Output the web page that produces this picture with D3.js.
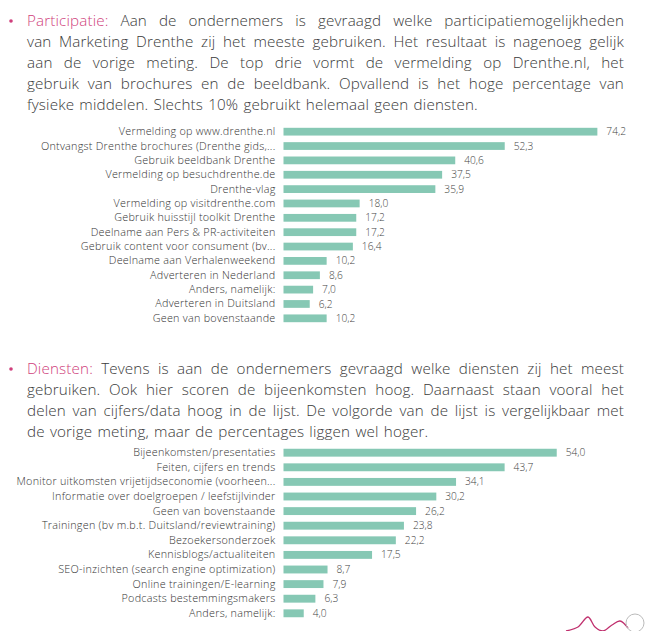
<!DOCTYPE html>
<html>
<head>
<meta charset="utf-8">
<script src="https://cdn.jsdelivr.net/npm/d3@7"></script>
<style>
  html, body { margin: 0; padding: 0; background: #ffffff; }
  svg { display: block; }
</style>
</head>
<body>
<svg id="chart" width="645" height="631"></svg>
<script>
// ---------- DATA ----------
const participatieCategories = [
  "Vermelding op www.drenthe.nl",
  "Ontvangst Drenthe brochures (Drenthe gids,...",
  "Gebruik beeldbank Drenthe",
  "Vermelding op besuchdrenthe.de",
  "Drenthe-vlag",
  "Vermelding op visitdrenthe.com",
  "Gebruik huisstijl toolkit Drenthe",
  "Deelname aan Pers & PR-activiteiten",
  "Gebruik content voor consument (bv...",
  "Deelname aan Verhalenweekend",
  "Adverteren in Nederland",
  "Anders, namelijk:",
  "Adverteren in Duitsland",
  "Geen van bovenstaande"
];
const participatieValues = [74.2, 52.3, 40.6, 37.5, 35.9, 18.0, 17.2, 17.2, 16.4, 10.2, 8.6, 7.0, 6.2, 10.2];

const dienstenCategories = [
  "Bijeenkomsten/presentaties",
  "Feiten, cijfers en trends",
  "Monitor uitkomsten vrijetijdseconomie (voorheen...",
  "Informatie over doelgroepen / leefstijlvinder",
  "Geen van bovenstaande",
  "Trainingen (bv m.b.t. Duitsland/reviewtraining)",
  "Bezoekersonderzoek",
  "Kennisblogs/actualiteiten",
  "SEO-inzichten (search engine optimization)",
  "Online trainingen/E-learning",
  "Podcasts bestemmingsmakers",
  "Anders, namelijk:"
];
const dienstenValues = [54.0, 43.7, 34.1, 30.2, 26.2, 23.8, 22.2, 17.5, 8.7, 7.9, 6.3, 4.0];

const paragraph1 = [
  "Participatie: Aan de ondernemers is gevraagd welke participatiemogelijkheden",
  "van Marketing Drenthe zij het meeste gebruiken. Het resultaat is nagenoeg gelijk",
  "aan de vorige meting. De top drie vormt de vermelding op Drenthe.nl, het",
  "gebruik van brochures en de beeldbank. Opvallend is het hoge percentage van",
  "fysieke middelen. Slechts 10% gebruikt helemaal geen diensten."
];
const paragraph2 = [
  "Diensten: Tevens is aan de ondernemers gevraagd welke diensten zij het meest",
  "gebruiken. Ook hier scoren de bijeenkomsten hoog. Daarnaast staan vooral het",
  "delen van cijfers/data hoog in de lijst. De volgorde van de lijst is vergelijkbaar met",
  "de vorige meting, maar de percentages liggen wel hoger."
];

// ---------- STYLE ----------
const FONT = "'Open Sans', 'Noto Sans', sans-serif";
const TEXT_COLOR = "#3a3a3a";
const PINK = "#cf3f7c";
const BAR_COLOR = "#86c8b4";
const fmt = v => d3.format(".1f")(v).replace(".", ",");

const svg = d3.select("#chart");

// ---------- PARAGRAPHS (justified) ----------
function drawParagraph(lines, y0, lineH) {
  const left = 27, right = 624;
  const g = svg.append("g");
  g.append("circle").attr("cx", 11).attr("cy", y0 - 5).attr("r", 1.8).attr("fill", PINK);
  lines.forEach((line, i) => {
    const y = y0 + i * lineH;
    const words = line.split(" ");
    const texts = words.map((w, j) => g.append("text")
      .attr("y", y)
      .attr("font-family", FONT)
      .attr("font-weight", 300)
      .attr("font-size", 15.2)
      .attr("letter-spacing", 0.15)
      .attr("fill", (i === 0 && j === 0) ? PINK : TEXT_COLOR)
      .text(w));
    const widths = texts.map(t => t.node().getComputedTextLength());
    const total = d3.sum(widths);
    const last = i === lines.length - 1;
    const spaceW = 5.2;
    const gap = last ? spaceW : (right - left - total) / (words.length - 1);
    let x = left;
    texts.forEach((t, j) => { t.attr("x", x); x += widths[j] + gap; });
  });
}
drawParagraph(paragraph1, 26, 21);
drawParagraph(paragraph2, 374, 21);

// ---------- BAR CHARTS ----------
function drawBars(categories, values, yRange, pxPerUnit) {
  const x0 = 283.5;
  const x = d3.scaleLinear().domain([0, 1]).range([x0, x0 + pxPerUnit]);
  const y = d3.scaleBand().domain(categories).range(yRange).paddingInner(0.46).paddingOuter(0.23);
  const g = svg.append("g");
  g.selectAll("rect").data(values).join("rect")
    .attr("x", x(0))
    .attr("y", (d, i) => y(categories[i]))
    .attr("width", d => x(d) - x(0))
    .attr("height", y.bandwidth())
    .attr("fill", BAR_COLOR);
  g.selectAll("text.val").data(values).join("text")
    .attr("class", "val")
    .attr("x", d => x(d) + 9)
    .attr("y", (d, i) => y(categories[i]) + y.bandwidth() / 2)
    .attr("dy", "0.35em")
    .attr("font-family", FONT)
    .attr("font-weight", 300)
    .attr("font-size", 10.2)
    .attr("fill", "#444")
    .text(d => fmt(d));
  const axis = d3.axisLeft(y).tickSize(0).tickPadding(8);
  const ag = g.append("g").attr("transform", `translate(${x0},0)`).call(axis);
  ag.select(".domain").remove();
  ag.selectAll("text")
    .attr("font-family", FONT)
    .attr("font-weight", 300)
    .attr("font-size", 10.8)
    .attr("letter-spacing", 0.25)
    .attr("fill", "#333");
}
drawBars(participatieCategories, participatieValues, [124.5, 325.5], 4.23);
drawBars(dienstenCategories, dienstenValues, [445.4, 620.6], 5.06);

// ---------- decorative logo (bottom right) ----------
const logo = svg.append("g");
const pts = [[566, 631], [578, 627], [588, 617], [595, 627], [603, 631], [612, 625], [620, 621], [628, 628]];
logo.append("path")
  .attr("d", d3.line().curve(d3.curveCatmullRom)(pts))
  .attr("fill", "none").attr("stroke", "#c0306e").attr("stroke-width", 1.3);
logo.append("circle").attr("cx", 635).attr("cy", 623).attr("r", 9)
  .attr("fill", "none").attr("stroke", "#bbb").attr("stroke-width", 1);
</script>
</body>
</html>
